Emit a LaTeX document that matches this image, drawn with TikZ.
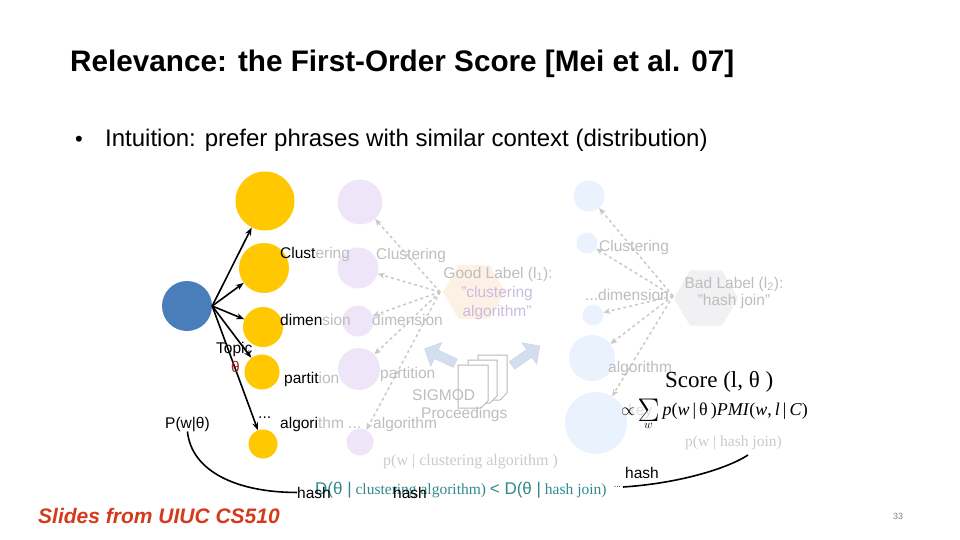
\documentclass[tikz,border=0pt]{standalone}
\usepackage{fontspec}
\usepackage{graphicx}
\setmainfont{Liberation Sans}
\newfontfamily\serf{Liberation Serif}
\usetikzlibrary{shapes.geometric,shapes.arrows,arrows.meta}

\definecolor{gold}{HTML}{FFC800}
\definecolor{topicblue}{HTML}{4A7EBB}
\definecolor{lav}{HTML}{EEE6F8}
\definecolor{lblue}{HTML}{EAF2FD}
\definecolor{peach}{HTML}{FDF0E4}
\definecolor{pale}{HTML}{F1F1F3}
\definecolor{fgrey}{HTML}{BDBDBD}
\definecolor{dgrey}{HTML}{C9C9C9}
\definecolor{lpurp}{HTML}{C9BCE0}
\definecolor{teal}{HTML}{2E8A8A}
\definecolor{slidered}{HTML}{D43A1C}
\definecolor{thetared}{HTML}{A52A2A}
\definecolor{barrow}{HTML}{D3DFEE}

\begin{document}
\begin{tikzpicture}[x=1pt,y=-1pt,
    ycirc/.style={circle,fill=gold,inner sep=0pt},
    pcirc/.style={circle,fill=lav,inner sep=0pt},
    bcirc/.style={circle,fill=lblue,inner sep=0pt},
    lbl/.style={anchor=base west,inner sep=0pt,font=\fontsize{15.5}{18}\selectfont},
    faint/.style={lbl,text=fgrey},
    blk/.style={-{Stealth[length=8pt,width=6pt]},line width=1.6pt},
    dsh/.style={-{Stealth[length=7pt,width=6pt]},draw=dgrey,dashed,line width=1.5pt},
    bigarrow/.style={single arrow,fill=barrow,draw=barrow!85!gray,minimum height=34,minimum width=26,single arrow head extend=4pt,inner sep=2pt},
    page/.style={draw=gray!55,fill=white,line width=1pt}]

\useasboundingbox (0,0) rectangle (960,540);

% title and bullet
\node[anchor=base west,inner sep=0pt,font=\bfseries\fontsize{29.7}{34}\selectfont] (title) at (70,72) {Relevance: the First-Order Score [Mei et al. 07]};
\node[anchor=base west,inner sep=0pt,font=\fontsize{22}{26}\selectfont] (dot) at (75,147) {\textbullet};
\node[anchor=base west,inner sep=0pt,font=\fontsize{24}{28}\selectfont] (intuition) at (105,147) {Intuition: prefer phrases with similar context (distribution)};

% faint background shapes
\node[regular polygon,regular polygon sides=6,fill=peach,minimum size=62] (goodhex) at (474,292) {};
\node[regular polygon,regular polygon sides=6,fill=pale,minimum size=64] (badhex) at (706,298) {};

% topic and word distribution
\node[circle,fill=topicblue,inner sep=0pt,minimum size=50] (topic) at (187,306) {};
\node[ycirc,minimum size=59] (y1) at (265,201) {};
\node[ycirc,minimum size=50] (y2) at (264,268) {};
\node[ycirc,minimum size=40] (y3) at (263,327) {};
\node[ycirc,minimum size=35] (y4) at (262,372) {};
\node[ycirc,minimum size=29] (y5) at (263,444) {};

\draw[blk] (topic.east) -- (y1);
\draw[blk] (topic.east) -- (y2);
\draw[blk] (topic.east) -- (y3);
\draw[blk] (topic.east) -- (y4);
\draw[blk] (topic.east) -- (y5);

% good label side
\node[pcirc,minimum size=45] (p1) at (360,202) {};
\node[pcirc,minimum size=41] (p2) at (358,268) {};
\node[pcirc,minimum size=31] (p3) at (358,321) {};
\node[pcirc,minimum size=42] (p4) at (359,369) {};
\node[pcirc,minimum size=27] (p5) at (360,442) {};
\coordinate (gl) at (440,292);
\foreach \c in {p1,p2,p3,p4,p5}
    \draw[dsh] (gl) -- (\c);

% bad label side
\node[bcirc,minimum size=31] (b1) at (589,196) {};
\node[bcirc,minimum size=21] (b2) at (587,243) {};
\node[bcirc,minimum size=21] (b3) at (593,315) {};
\node[bcirc,minimum size=46] (b4) at (592,358) {};
\node[bcirc,minimum size=62] (b5) at (596,423) {};
\coordinate (bl) at (673,296);
\foreach \c in {b1,b2,b3,b4,b5}
    \draw[dsh] (bl) -- (\c);

% proceedings pages and arrows
\draw[page] (478,355) -- (507,355) -- (507,393) -- (500,400) -- (478,400) -- cycle;
\draw[page] (468,360) -- (497,360) -- (497,396) -- (490,403) -- (468,403) -- cycle;
\draw[page] (458,365) -- (488,365) -- (488,401) -- (481,408) -- (458,408) -- cycle;
\node[bigarrow,rotate=155] (arrl) at (442,357) {};
\node[bigarrow,rotate=35] (arrr) at (524,357) {};

% words next to the topic
\node[lbl] (w1) at (280,258) {Clust\textcolor{fgrey}{ering}};
\node[lbl] (w2) at (280,325) {dimen\textcolor{fgrey}{sion}};
\node[lbl] (topiclbl) at (216,353) {Topic};
\node[lbl,text=thetared] (theta) at (231,372) {θ};
\node[lbl] (w3) at (284,383) {partit\textcolor{fgrey}{ion}};
\node[lbl] (dots1) at (258,418) {...};
\node[lbl] (w4) at (280,428) {algori\textcolor{fgrey}{thm ...}};
\node[lbl] (pwt) at (165,428) {P(w|θ)};

% words of the good label
\node[faint] (g1) at (376,259) {Clustering};
\node[faint] (g2) at (372,325) {dimension};
\node[faint] (g3) at (380,378) {partition};
\node[faint] (g4) at (412,400) {SIGMOD};
\node[faint] (g5) at (421,418) {Proceedings};
\node[faint] (g6) at (373,428) {algorithm};
\node[faint,anchor=base] (goodlbl) at (498,278) {Good Label (l\textsubscript{1}):};
\node[lbl,anchor=base,text=lpurp] (goodtxt1) at (497,297) {"clustering};
\node[lbl,anchor=base,text=lpurp] (goodtxt2) at (497,316) {algorithm"};

% words of the bad label
\node[faint] (h1) at (599,251) {Clustering};
\node[faint] (h2) at (585,300) {...dimension};
\node[faint] (h3) at (608,372) {algorithm};
\node[faint,text=fgrey!50] (h4) at (628,415) {key};
\node[faint,anchor=base] (badlbl) at (734,288) {Bad Label (l\textsubscript{2}):};
\node[faint,anchor=base] (badtxt) at (734,305) {"hash join"};

% score
\node[anchor=base west,inner sep=0pt,font=\serf\fontsize{23}{26}\selectfont] (score) at (665,387) {Score (l, θ )};
\node[anchor=base west,inner sep=0pt,font=\serf\fontsize{18}{20}\selectfont] (sum) at (621,415) {$\propto$\,$\mathop{\vcenter{\hbox{\scalebox{1.9}{$\Sigma$}}}}\limits_{w}$\,\textit{p}(\textit{w}\,|\,θ\,)\textit{PMI}(\textit{w},\,\textit{l}\,|\,\textit{C})};
\node[anchor=base west,inner sep=0pt,text=fgrey!80,font=\serf\fontsize{15.5}{18}\selectfont] (pwh) at (685,446) {p(w | hash join)};
\node[anchor=base west,inner sep=0pt,text=fgrey!80,font=\serf\fontsize{16}{18}\selectfont] (pwc) at (383,465) {p(w | clustering algorithm )};

% divergence line
\node[anchor=base west,inner sep=0pt,text=teal,font=\serf\fontsize{15.5}{18}\selectfont] (dline) at (315,494) {{\rmfamily\fontsize{17}{18}\selectfont D(θ |} clustering algorithm) {\rmfamily\fontsize{17}{18}\selectfont < D(θ |} hash join)};
\node[lbl] (hash1) at (297,498) {hash};
\node[lbl] (hash2) at (393,498) {hash};
\node[lbl] (hash3) at (625,478) {hash};
\node[lbl,font=\fontsize{8}{8}\selectfont] (dots2) at (614,487) {...};
\coordinate (rc) at (623,487);
\coordinate (re) at (748,455);

\draw[line width=1.6pt] (pwt.south) .. controls +(4,40) and +(-60,0) .. (hash1.west);
\draw[line width=1.6pt] (rc) .. controls +(60,-4) and +(-18,12) .. (re);

% footer
\node[anchor=base west,inner sep=0pt,text=slidered,font=\bfseries\itshape\fontsize{21}{24}\selectfont] (credit) at (38,523) {Slides from UIUC CS510};
\node[anchor=base west,inner sep=0pt,text=gray,font=\fontsize{9}{10}\selectfont] (pagenum) at (893,519) {33};
\end{tikzpicture}
\end{document}
